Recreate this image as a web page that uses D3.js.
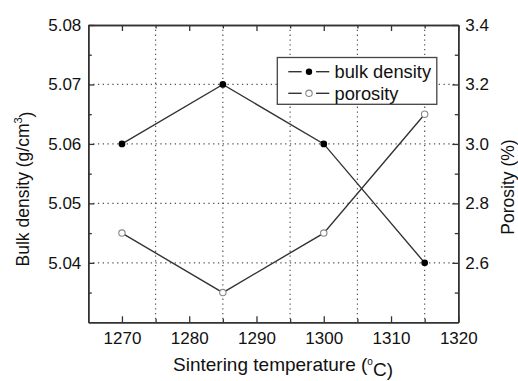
<!DOCTYPE html>
<html>
<head>
<meta charset="utf-8">
<script src="https://cdn.jsdelivr.net/npm/d3@7"></script>
<style>
  body { margin: 0; background: #fff; }
  svg text { font-family: "Liberation Sans", Arial, sans-serif; fill: #111; }
</style>
</head>
<body>
<svg id="svg" width="518" height="381"></svg>
<script>
// data
var temps = [1270, 1285, 1300, 1315];
var bulkDensity = [5.06, 5.07, 5.06, 5.04];
var porosity = [2.7, 2.5, 2.7, 3.1];

var xTicks = [1270, 1280, 1290, 1300, 1310, 1320];
var xMinor = [1275, 1285, 1295, 1305, 1315];
var yLeftTicks = [5.04, 5.05, 5.06, 5.07, 5.08];
var yLeftMinor = [5.035, 5.045, 5.055, 5.065, 5.075];
var yRightTicks = [2.6, 2.8, 3.0, 3.2, 3.4];
var yRightMinor = [2.5, 2.7, 2.9, 3.1, 3.3];

function draw(){
	var svg = d3.select("#svg");
	var left = 88.3, right = 458.3, top = 25, bottom = 322.3;

	var scaleX = d3.scaleLinear().domain([1265, 1320]).range([left, right]);
	var scaleY = d3.scaleLinear().domain([5.03, 5.08]).range([bottom, top]);
	var scaleY2 = d3.scaleLinear().domain([2.4, 3.4]).range([bottom, top]);

	// grid lines
	var grid = svg.append("g")
		.attr("stroke", "#555")
		.attr("stroke-width", 1.2)
		.attr("stroke-dasharray", "1.3,3.5");
	grid.selectAll("line.vx")
		.data(xMinor)
		.enter()
		.append("line")
		.attr("x1", function(d){ return scaleX(d); })
		.attr("x2", function(d){ return scaleX(d); })
		.attr("y1", top)
		.attr("y2", bottom);
	grid.selectAll("line.hy")
		.data([5.04, 5.05, 5.06, 5.07])
		.enter()
		.append("line")
		.attr("x1", left)
		.attr("x2", right)
		.attr("y1", function(d){ return scaleY(d); })
		.attr("y2", function(d){ return scaleY(d); });

	// axes (ticks pointing inside)
	function styleAxis(g){
		g.select(".domain").attr("stroke", "#333").attr("stroke-width", 1.5);
		g.selectAll(".tick line").attr("stroke", "#333").attr("stroke-width", 1.3);
		g.selectAll(".tick text").attr("fill", "#111").style("font-size", "17px")
			.attr("font-family", null);
	}

	var gX = svg.append("g").attr("transform", "translate(0," + bottom + ")")
		.call(d3.axisBottom(scaleX).tickValues(xTicks).tickSize(-6).tickSizeOuter(0).tickPadding(10).tickFormat(d3.format("d")));
	styleAxis(gX);
	svg.append("g").attr("transform", "translate(0," + bottom + ")")
		.call(d3.axisBottom(scaleX).tickValues(xMinor).tickSize(-3.5).tickSizeOuter(0).tickFormat(""))
		.call(styleAxis);

	var gTop = svg.append("g").attr("transform", "translate(0," + top + ")")
		.call(d3.axisTop(scaleX).tickValues(xTicks).tickSize(-6).tickSizeOuter(0).tickFormat(""));
	styleAxis(gTop);
	svg.append("g").attr("transform", "translate(0," + top + ")")
		.call(d3.axisTop(scaleX).tickValues(xMinor).tickSize(-3.5).tickSizeOuter(0).tickFormat(""))
		.call(styleAxis);

	var gY = svg.append("g").attr("transform", "translate(" + left + ",0)")
		.call(d3.axisLeft(scaleY).tickValues(yLeftTicks).tickSize(-6).tickSizeOuter(0).tickPadding(7).tickFormat(d3.format(".2f")));
	styleAxis(gY);
	svg.append("g").attr("transform", "translate(" + left + ",0)")
		.call(d3.axisLeft(scaleY).tickValues(yLeftMinor).tickSize(-3.5).tickSizeOuter(0).tickFormat(""))
		.call(styleAxis);

	var gY2 = svg.append("g").attr("transform", "translate(" + right + ",0)")
		.call(d3.axisRight(scaleY2).tickValues(yRightTicks).tickSize(-6).tickSizeOuter(0).tickPadding(7).tickFormat(d3.format(".1f")));
	styleAxis(gY2);
	svg.append("g").attr("transform", "translate(" + right + ",0)")
		.call(d3.axisRight(scaleY2).tickValues(yRightMinor).tickSize(-3.5).tickSizeOuter(0).tickFormat(""))
		.call(styleAxis);

	// series
	var lineB = d3.line()
		.x(function(d, i){ return scaleX(temps[i]); })
		.y(function(d){ return scaleY(d); });
	var lineP = d3.line()
		.x(function(d, i){ return scaleX(temps[i]); })
		.y(function(d){ return scaleY2(d); });

	svg.append("path").datum(bulkDensity)
		.attr("d", lineB).attr("fill", "none").attr("stroke", "#333").attr("stroke-width", 1.4);
	svg.append("path").datum(porosity)
		.attr("d", lineP).attr("fill", "none").attr("stroke", "#333").attr("stroke-width", 1.4);

	svg.selectAll("circle.b")
		.data(bulkDensity)
		.enter()
		.append("circle")
		.attr("cx", function(d, i){ return scaleX(temps[i]); })
		.attr("cy", function(d){ return scaleY(d); })
		.attr("r", 3.4)
		.attr("fill", "#000");
	svg.selectAll("circle.p")
		.data(porosity)
		.enter()
		.append("circle")
		.attr("cx", function(d, i){ return scaleX(temps[i]); })
		.attr("cy", function(d){ return scaleY2(d); })
		.attr("r", 3.2)
		.attr("fill", "#fff")
		.attr("stroke", "#888")
		.attr("stroke-width", 1.1);

	// legend
	var leg = svg.append("g");
	leg.append("rect")
		.attr("x", 277.3).attr("y", 57.5)
		.attr("width", 159.5).attr("height", 46.8)
		.attr("fill", "#fff").attr("stroke", "#444").attr("stroke-width", 1.3);
	var entries = [
		{ name: "bulk density", y: 71.7, fill: "#000", stroke: "none" },
		{ name: "porosity", y: 93.3, fill: "#fff", stroke: "#888" }
	];
	entries.forEach(function(e){
		leg.append("line").attr("x1", 288.3).attr("x2", 301.7).attr("y1", e.y).attr("y2", e.y)
			.attr("stroke", "#333").attr("stroke-width", 1.4);
		leg.append("line").attr("x1", 316).attr("x2", 329.3).attr("y1", e.y).attr("y2", e.y)
			.attr("stroke", "#333").attr("stroke-width", 1.4);
		leg.append("circle").attr("cx", 309).attr("cy", e.y).attr("r", 3.2)
			.attr("fill", e.fill).attr("stroke", e.stroke).attr("stroke-width", 1.1);
		leg.append("text").attr("x", 334.5).attr("y", e.y).attr("dy", "0.36em")
			.style("font-size", "18.3px").text(e.name);
	});

	// axis titles
	var xt = svg.append("text")
		.attr("x", 283).attr("y", 371)
		.attr("text-anchor", "middle")
		.style("font-size", "19px");
	xt.append("tspan").text("Sintering temperature (");
	xt.append("tspan").attr("dy", "-0.6em").style("font-size", "10px").text("o");
	xt.append("tspan").attr("dy", "0.6em").text("C)");

	var yt = svg.append("text")
		.attr("transform", "translate(28.5,189) rotate(-90)")
		.attr("text-anchor", "middle")
		.style("font-size", "17.5px");
	yt.append("tspan").text("Bulk density (g/cm");
	yt.append("tspan").attr("dy", "-0.55em").style("font-size", "11px").text("3");
	yt.append("tspan").attr("dy", "0.55em").text(")");

	svg.append("text")
		.attr("transform", "translate(513.5,187) rotate(-90)")
		.attr("text-anchor", "middle")
		.style("font-size", "17.5px")
		.text("Porosity (%)");
}
draw();
</script>
</body>
</html>
